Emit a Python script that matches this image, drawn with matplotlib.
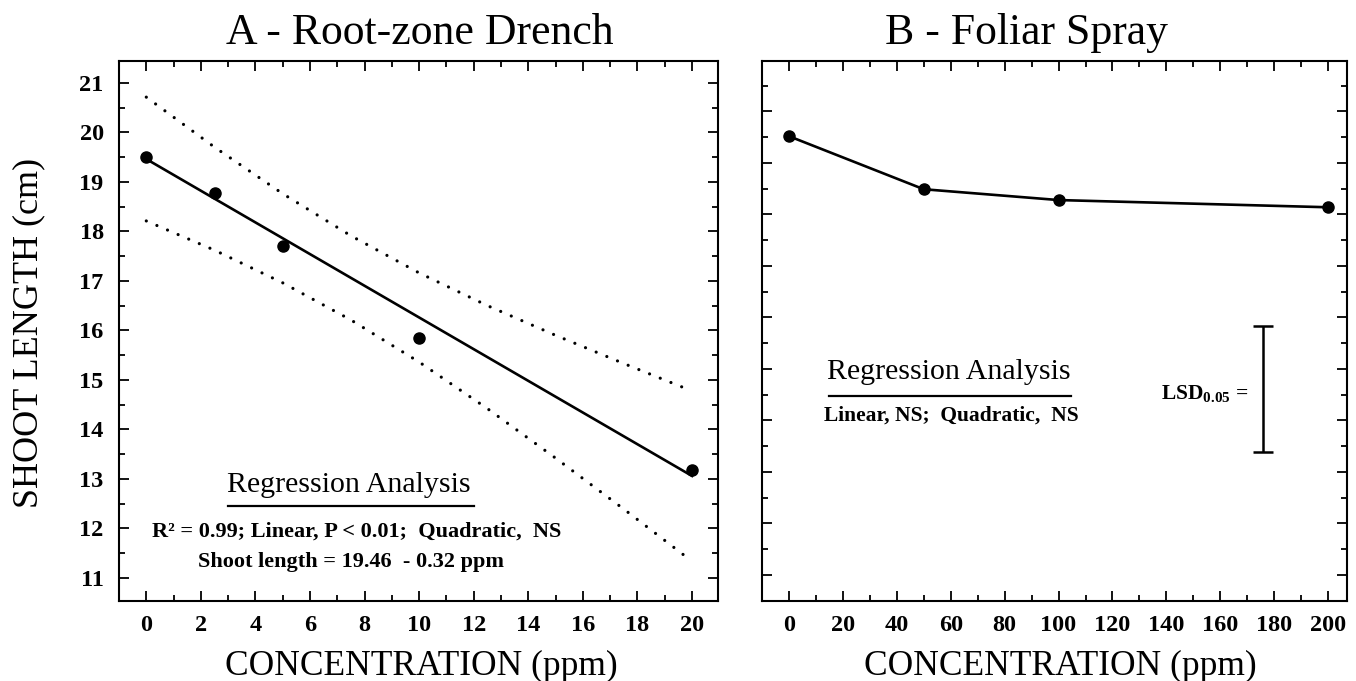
import numpy as np
import matplotlib
matplotlib.use("Agg")
import matplotlib.pyplot as plt
from matplotlib.ticker import MultipleLocator, NullFormatter

plt.rcParams['font.family'] = ['Liberation Serif', 'DejaVu Serif']
plt.rcParams['mathtext.fontset'] = 'custom'
plt.rcParams['mathtext.rm'] = 'Liberation Serif'
plt.rcParams['mathtext.bf'] = 'Liberation Serif:bold'

# A - root-zone drench
conc_a = [0, 2.5, 5, 10, 20]
shoot_a = [19.50, 18.78, 17.71, 15.85, 13.19]
fit_x = [0, 20]
intercept, slope = 19.46, -0.32
band_x = [0, 2.5, 5, 7.5, 10, 12.5, 15, 17.5, 19.8]
band_hi = [20.71, 19.70, 18.76, 17.91, 17.16, 16.50, 15.90, 15.33, 14.82]
band_lo = [18.21, 17.62, 16.96, 16.21, 15.36, 14.42, 13.42, 12.39, 11.42]

# B - foliar spray
conc_b = [0, 50, 100, 200]
shoot_b = [19.52, 18.49, 18.28, 18.14]
lsd_x = 176
lsd_lo, lsd_hi = 13.38, 15.84

W, H = 1356, 681
fig = plt.figure(figsize=(W / 100, H / 100), dpi=100)
axA = fig.add_axes([119 / W, 1 - 601 / H, 599 / W, 540 / H])
axB = fig.add_axes([762 / W, 1 - 601 / H, 585 / W, 540 / H])

for ax in (axA, axB):
    ax.tick_params(which='both', direction='in', top=True, right=True,
                   width=1.3, labelsize=17.5)
    ax.tick_params(which='major', length=7)
    ax.tick_params(which='minor', length=4)
    ax.tick_params(axis='x', pad=10)
    ax.tick_params(axis='y', pad=11)
    for s in ax.spines.values():
        s.set_linewidth(1.5)

dot = (0, (0.01, 3.6))

# panel A
axA.plot(conc_a, shoot_a, 'o', color='black', ms=8)
fit_y = [intercept + slope * x for x in fit_x]
axA.plot(fit_x, fit_y, color='black', lw=1.9)
axA.plot(band_x, band_hi, color='black', lw=2.3, ls=dot, dash_capstyle='round')
axA.plot(band_x, band_lo, color='black', lw=2.3, ls=dot, dash_capstyle='round')
axA.set_xlim(-1.0, 20.95)
axA.set_ylim(10.535, 21.44)
axA.xaxis.set_major_locator(MultipleLocator(2))
axA.xaxis.set_minor_locator(MultipleLocator(1))
axA.yaxis.set_major_locator(MultipleLocator(1))
axA.yaxis.set_minor_locator(MultipleLocator(0.5))
for lab in axA.get_xticklabels() + axA.get_yticklabels():
    lab.set_fontweight('bold')

axA.text(0.384, 0.215, 'Regression Analysis', transform=axA.transAxes,
         ha='center', va='center', fontsize=21.5)
axA.plot([0.182, 0.593], [0.176, 0.176], transform=axA.transAxes,
         color='black', lw=1.6)
axA.text(0.397, 0.128, 'R² = 0.99; Linear, P < 0.01;  Quadratic,  NS',
         transform=axA.transAxes, ha='center', va='center', fontsize=16,
         fontweight='bold')
axA.text(0.387, 0.073, 'Shoot length = 19.46  - 0.32 ppm',
         transform=axA.transAxes, ha='center', va='center', fontsize=16,
         fontweight='bold')

# panel B
axB.plot(conc_b, shoot_b, '-o', color='black', ms=8, lw=1.9)
axB.errorbar([lsd_x], [(lsd_lo + lsd_hi) / 2], yerr=[(lsd_hi - lsd_lo) / 2],
             fmt='none', ecolor='black', elinewidth=1.8, capsize=7, capthick=1.8)
axB.set_xlim(-10, 207)
axB.set_ylim(10.495, 20.98)
axB.xaxis.set_major_locator(MultipleLocator(20))
axB.xaxis.set_minor_locator(MultipleLocator(10))
axB.yaxis.set_major_locator(MultipleLocator(1))
axB.yaxis.set_minor_locator(MultipleLocator(0.5))
axB.yaxis.set_major_formatter(NullFormatter())
for lab in axB.get_xticklabels():
    lab.set_fontweight('bold')

axB.text(0.319, 0.424, 'Regression Analysis', transform=axB.transAxes,
         ha='center', va='center', fontsize=21.5)
axB.plot([0.114, 0.528], [0.380, 0.380], transform=axB.transAxes,
         color='black', lw=1.6)
axB.text(0.323, 0.343, 'Linear, NS;  Quadratic,  NS', transform=axB.transAxes,
         ha='center', va='center', fontsize=15.5, fontweight='bold')
axB.text(0.831, 0.385, r'$\mathbf{LSD_{0.05}}$ =', transform=axB.transAxes,
         ha='right', va='center', fontsize=15.5, fontweight='bold')

# titles and axis labels
fig.text(420 / W, 1 - 33 / H, 'A - Root-zone Drench', ha='center', va='center',
         fontsize=31.5)
fig.text(1026 / W, 1 - 33 / H, 'B - Foliar Spray', ha='center', va='center',
         fontsize=31.5)
fig.text(421 / W, 6 / H, 'CONCENTRATION (ppm)', ha='center', va='baseline',
         fontsize=25.5)
fig.text(1060 / W, 6 / H, 'CONCENTRATION (ppm)', ha='center', va='baseline',
         fontsize=25.5)
fig.text(29 / W, 1 - 333 / H, 'SHOOT LENGTH (cm)', ha='center', va='center',
         rotation=90, fontsize=26)

fig.savefig('out.png', dpi=100)
